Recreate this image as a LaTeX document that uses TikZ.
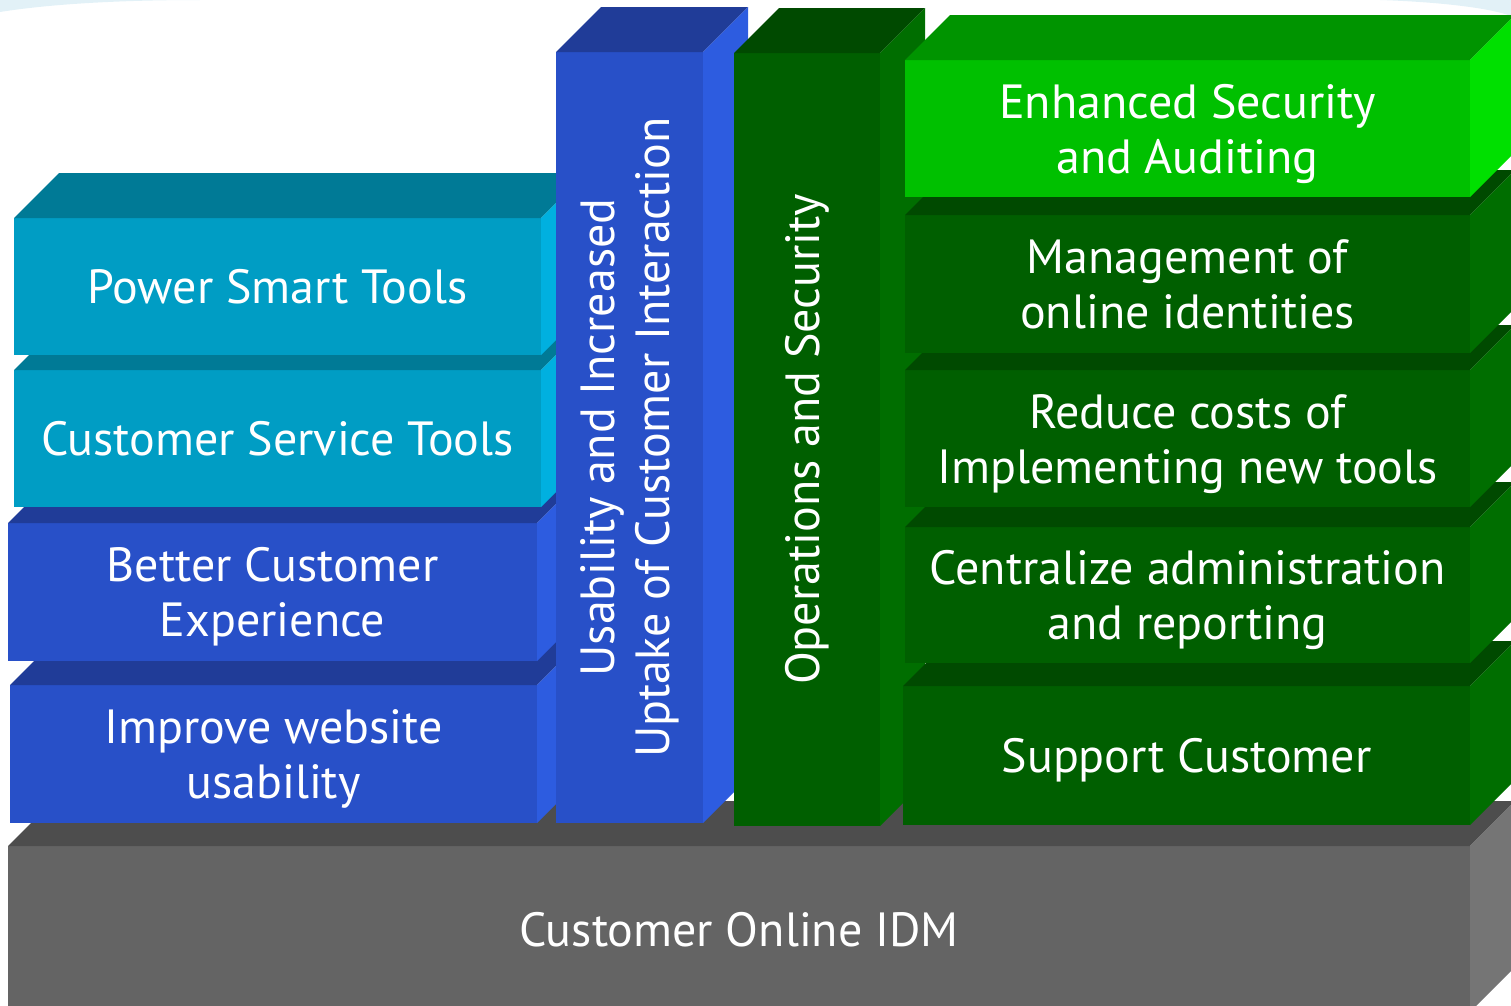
\documentclass[tikz,border=0pt]{standalone}
\usepackage{fontspec}
\setmainfont{PT Sans}
\usepackage{tikz}
\usetikzlibrary{calc}

% face colours: front / top / side
\definecolor{tealfront}{HTML}{009DC4}
\definecolor{tealtop}{HTML}{007A96}
\definecolor{tealside}{HTML}{00B0E0}
\definecolor{bluefront}{HTML}{2850C8}
\definecolor{bluetop}{HTML}{203C98}
\definecolor{blueside}{HTML}{2D5CE0}
\definecolor{darkfront}{HTML}{005F00}
\definecolor{darktop}{HTML}{004A00}
\definecolor{darkside}{HTML}{006E00}
\definecolor{limefront}{HTML}{00C000}
\definecolor{limetop}{HTML}{009400}
\definecolor{limeside}{HTML}{00E000}
\definecolor{greyfront}{HTML}{646464}
\definecolor{greytop}{HTML}{4D4D4D}
\definecolor{greyside}{HTML}{757575}
\definecolor{haze}{HTML}{E2F1F7}

\newcommand{\blockfont}{\fontsize{48}{55}\selectfont}

% top and right faces of a block, drawn from the anchors of its front node
\newcommand{\depthfaces}[3]{%
  \fill[#2] (#1.north west) -- ++(45,-45) -- ($(#1.north east)+(45,-45)$) -- (#1.north east) -- cycle;
  \fill[#3] (#1.north east) -- ++(45,-45) -- ($(#1.south east)+(45,-45)$) -- (#1.south east) -- cycle;
}

\begin{document}
\begin{tikzpicture}[
    x=1pt, y=-1pt,
    every node/.style={font=\blockfont},
    face/.style={
      rectangle, anchor=north west, inner sep=0pt, outer sep=0pt,
      text=white, align=center, text depth=0pt
    },
    tealface/.style={face, fill=tealfront},
    blueface/.style={face, fill=bluefront},
    darkface/.style={face, fill=darkfront},
    limeface/.style={face, fill=limefront},
    greyface/.style={face, fill=greyfront},
    size/.style 2 args={minimum width=#1pt, minimum height=#2pt},
    uptext/.style={rotate=90, text=white, align=center, inner sep=0pt}
  ]
    \useasboundingbox (0,0) rectangle (1511,1005);
    \clip (0,0) rectangle (1511,1005);

    % faint background swooshes
    \fill[haze] (0,12) .. controls (50,4) and (120,0) .. (200,0) -- (0,0) -- cycle;
    \fill[haze] (1380,0) .. controls (1440,2) and (1490,8) .. (1511,16) -- (1511,0) -- cycle;

    % Base layer
    \node[greyface, size={1462}{166}] (base) at (8,846) {Customer Online IDM};
    \depthfaces{base}{greytop}{greyside}

    % Left stack
    \node[blueface, size={527}{138}] (web) at (10,685) {Improve website\\usability};
    \depthfaces{web}{bluetop}{blueside}
    \node[blueface, size={529}{138}] (cx) at (8,523) {Better Customer\\Experience};
    \depthfaces{cx}{bluetop}{blueside}
    \node[tealface, size={527}{137}] (service) at (14,370) {Customer Service Tools};
    \depthfaces{service}{tealtop}{tealside}
    \node[tealface, size={527}{137}] (power) at (14,218) {Power Smart Tools};
    \depthfaces{power}{tealtop}{tealside}

    % Columns
    \node[blueface, size={147}{771}] (usab) at (556,52) {};
    \depthfaces{usab}{bluetop}{blueside}
    \node[uptext] (usabtxt) at (usab.center) {Usability and Increased\\Uptake of Customer Interaction};

    \node[darkface, size={146}{773}] (ops) at (734,53) {};
    \depthfaces{ops}{darktop}{darkside}
    \node[uptext] (opstxt) at (ops.center) {Operations and Security};

    % Right stack
    \node[darkface, size={567}{139}] (support) at (903,686) {Support Customer};
    \depthfaces{support}{darktop}{darkside}
    \node[darkface, size={565}{136}] (admin) at (905,527) {Centralize administration\\and reporting};
    \depthfaces{admin}{darktop}{darkside}
    \node[darkface, size={565}{137}] (costs) at (905,370) {Reduce costs of\\Implementing new tools};
    \depthfaces{costs}{darktop}{darkside}
    \node[darkface, size={565}{138}] (ident) at (905,215) {Management of\\online identities};
    \depthfaces{ident}{darktop}{darkside}
    \node[limeface, size={565}{137}] (secure) at (905,60) {Enhanced Security\\and Auditing};
    \depthfaces{secure}{limetop}{limeside}

\end{tikzpicture}
\end{document}
